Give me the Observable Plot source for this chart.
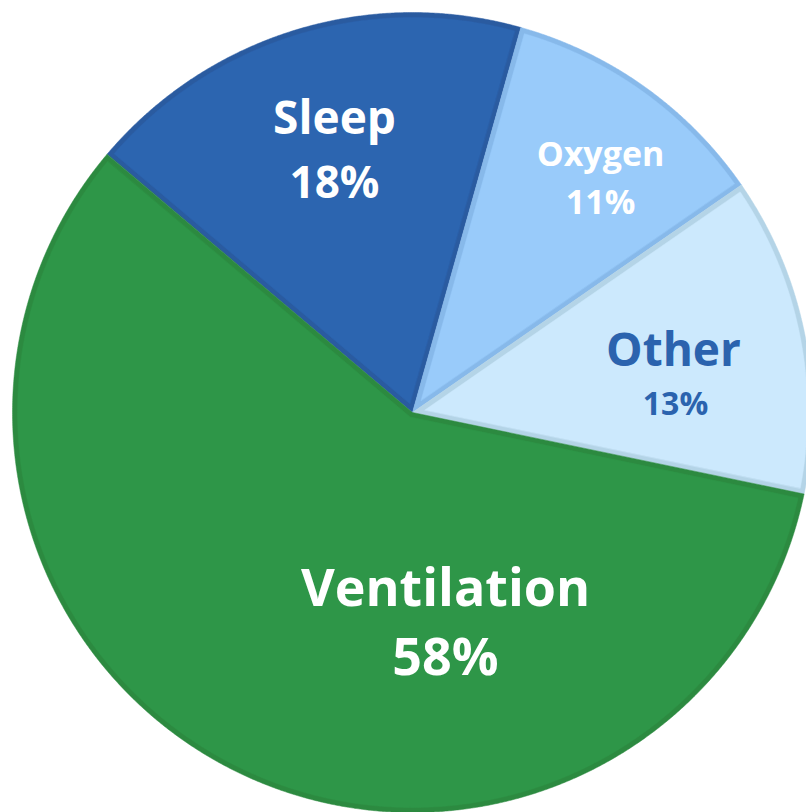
<!DOCTYPE html>
<html>
<head>
<meta charset="utf-8">
<script src="https://cdn.jsdelivr.net/npm/d3@7"></script>
<script src="https://cdn.jsdelivr.net/npm/@observablehq/plot@0.6"></script>
<style>
  html, body { margin: 0; padding: 0; background: #ffffff; overflow: hidden; }
  #chart svg { display: block; overflow: hidden; }
</style>
</head>
<body>
<div id="chart"></div>
<script>
// ---- data ----
const categories = ["Sleep", "Oxygen", "Other", "Ventilation"];
const shares = [18.2, 11.0, 12.9, 57.9];
const percentLabels = ["18%", "11%", "13%", "58%"];

// ---- styles ----
const fills = ["#2c65b0", "#99cbfa", "#cce9fd", "#2e9648"];
const borders = ["#2a5ba0", "#87b9ea", "#b4d4e7", "#2c8a40"];
const labelColors = ["#ffffff", "#ffffff", "#2b63ae", "#ffffff"];
const nameSizes = [46, 34, 46, 52];
const pctSizes = [44, 34, 32, 52];

// ---- layout (chart units, centre at 0,0, y downward) ----
const R = 400;          // pie radius
const inset = 5;        // inner border width
const startDeg = -49.8; // first slice edge, clockwise from top
const nameAt = [[-78, -279], [188, -247], [261, -47], [33, 193]];
const pctAt  = [[-78, -215], [188, -199], [263, 2], [33, 262]];

const rows = categories.map((c, i) => ({category: c, share: shares[i], i}));
const arcs = d3.pie().value(d => d.share).sort(null)
  .startAngle(startDeg * Math.PI / 180)
  .endAngle(startDeg * Math.PI / 180 + 2 * Math.PI)(rows);

const pt = (a, r) => [r * Math.sin(a), -r * Math.cos(a)];
const step = Math.PI / 720;

function wedge(a0, a1, r, apex) {
  const pts = [apex];
  const n = Math.max(2, Math.ceil((a1 - a0) / step));
  for (let k = 0; k <= n; k++) pts.push(pt(a0 + (a1 - a0) * k / n, r));
  return pts;
}

const outer = [], inner = [];
for (const a of arcs) {
  const i = a.data.i;
  wedge(a.startAngle, a.endAngle, R, [0, 0]).forEach(([x, y]) =>
    outer.push({x, y, key: categories[i], color: borders[i]}));
  const h = (a.endAngle - a.startAngle) / 2;
  const mid = a.startAngle + h;
  const apexDist = inset / Math.sin(Math.min(h, Math.PI / 2));
  const apex = pt(mid, apexDist);
  const rr = R - inset;
  const da = Math.asin(inset / rr);
  wedge(a.startAngle + da, a.endAngle - da, rr, apex).forEach(([x, y]) =>
    inner.push({x, y, key: categories[i], color: fills[i]}));
}

const labels = arcs.map(a => {
  const i = a.data.i;
  return {
    name: categories[i], pct: percentLabels[i],
    nx: nameAt[i][0], ny: nameAt[i][1],
    px: pctAt[i][0], py: pctAt[i][1],
    color: labelColors[i], ns: nameSizes[i], ps: pctSizes[i]
  };
});

const W = 806, H = 812;
const plot = Plot.plot({
  width: W, height: H,
  margin: 0,
  style: {fontFamily: "'Open Sans', sans-serif", background: "#ffffff"},
  x: {domain: [-412, 394], range: [0, W], axis: null},
  y: {domain: [-412, 400], range: [0, H], axis: null},
  color: {type: "identity"},
  marks: [
    Plot.line(outer, {x: "x", y: "y", z: "key", fill: "color", stroke: "color", strokeWidth: 0.5, curve: "linear-closed"}),
    Plot.line(inner, {x: "x", y: "y", z: "key", fill: "color", stroke: "color", strokeWidth: 0.5, curve: "linear-closed"}),
    ...labels.map(l => Plot.text([l], {x: "nx", y: "ny", text: "name", fill: "color", fontSize: l.ns, fontWeight: 700, textAnchor: "middle", lineAnchor: "bottom"})),
    ...labels.map(l => Plot.text([l], {x: "px", y: "py", text: "pct", fill: "color", fontSize: l.ps, fontWeight: 700, textAnchor: "middle", lineAnchor: "bottom"}))
  ]
});
document.getElementById("chart").appendChild(plot);
</script>
</body>
</html>
